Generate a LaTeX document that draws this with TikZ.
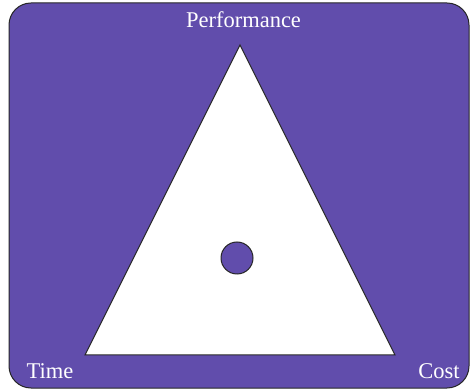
\documentclass[tikz,border=0pt]{standalone}
\usepackage{fontspec}
\setmainfont{Liberation Serif}
\definecolor{bgpurple}{RGB}{97,77,172}
\begin{document}
\begin{tikzpicture}[x=1pt,y=1pt,
  lbl/.style={text=white,font=\fontsize{22.5}{27}\selectfont,inner sep=0pt,anchor=base}]
\useasboundingbox (0,0) rectangle (470,390);
\draw[fill=bgpurple,draw=black!85,line width=1pt,rounded corners=22pt] (9,2) rectangle (469,387);
\coordinate (P) at (240,345);
\coordinate (T) at (85,35);
\coordinate (C) at (395,35);
\draw[fill=white,draw=black!85,line width=1pt] (P) -- (T) -- (C) -- cycle;
\node[circle,fill=bgpurple,draw=black!85,line width=1pt,minimum size=32pt,inner sep=0pt] (dot) at (237,132) {};
\node[lbl] (perf) at (243.5,362) {Performance};
\node[lbl] (time) at (50,12) {Time};
\node[lbl] (cost) at (439,12) {Cost};
\end{tikzpicture}
\end{document}
